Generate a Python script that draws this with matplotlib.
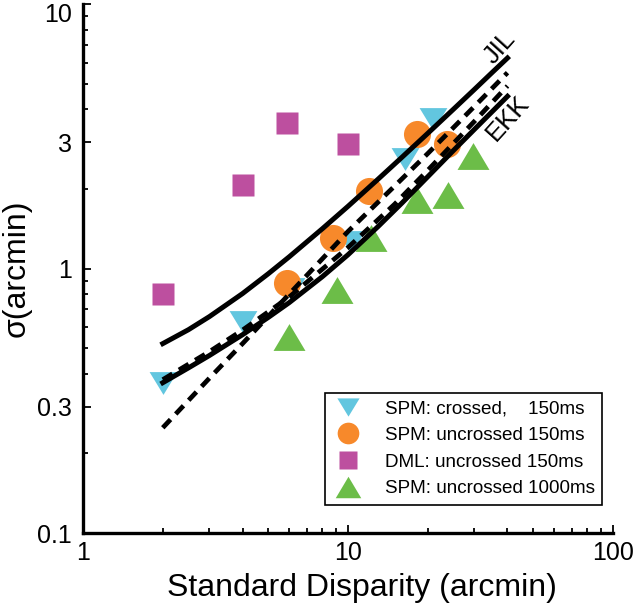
import matplotlib
matplotlib.use("Agg")
import matplotlib.pyplot as plt
from matplotlib.ticker import NullFormatter
from matplotlib.transforms import ScaledTranslation

plt.rcParams['font.family'] = ['Liberation Sans', 'DejaVu Sans']

# --- data ---
# SPM crossed 150ms (cyan, down triangles)
spm_cross_x = [2.0, 4.0, 6.1, 10.3, 16.4, 20.9]
spm_cross_y = [0.37, 0.63, 0.84, 1.26, 2.6, 3.68]

# SPM uncrossed 150ms (orange circles)
spm_unc_x = [5.9, 8.8, 12.0, 18.2, 23.6]
spm_unc_y = [0.88, 1.30, 1.97, 3.23, 2.96]

# DML uncrossed 150ms (magenta squares)
dml_x = [2.0, 4.0, 5.9, 10.0]
dml_y = [0.80, 2.07, 3.56, 2.96]

# SPM uncrossed 1000ms (green up triangles)
spm_1000_x = [6.0, 9.1, 12.2, 18.2, 23.9, 29.6]
spm_1000_y = [0.55, 0.83, 1.30, 1.82, 1.89, 2.67]

# model curves (solid: JIL / EKK, plus two dashed fits)
curve_x = [2, 2.5, 3, 4, 5, 6, 8, 10, 13, 16, 20, 25, 30, 35, 40]
jil_solid = [0.52, 0.587, 0.658, 0.804, 0.955, 1.107, 1.413, 1.718, 2.178,
             2.636, 3.243, 4.0, 4.753, 5.508, 6.25]
ekk_solid = [0.37, 0.421, 0.469, 0.562, 0.653, 0.743, 0.931, 1.127, 1.442,
             1.77, 2.223, 2.793, 3.357, 3.917, 4.477]

dash_x = [2, 3, 4, 6, 10, 15, 20, 30, 40]
dash_upper = [0.25, 0.385, 0.52, 0.80, 1.38, 2.05, 2.72, 4.1, 5.5]
dash_lower = [0.38, 0.485, 0.585, 0.78, 1.20, 1.75, 2.35, 3.6, 4.9]

labels = ["SPM: crossed,    150ms", "SPM: uncrossed 150ms",
          "DML: uncrossed 150ms", "SPM: uncrossed 1000ms"]

c_cyan = "#62c6df"
c_orange = "#f7892b"
c_magenta = "#bd4f9f"
c_green = "#6cbd48"

down_tri = [(-1, 0.82), (1, 0.82), (0, -0.82), (-1, 0.82)]
up_tri = [(-1, -0.84), (1, -0.84), (0, 0.84), (-1, -0.84)]

fig = plt.figure(figsize=(6.4, 6.07), dpi=100)
ax = fig.add_axes([0.1297, 0.1219, 0.828, 0.8715])

ax.plot(spm_cross_x, spm_cross_y, ls="none", marker=down_tri, ms=20,
        color=c_cyan, mec="none", label=labels[0], zorder=2)
ax.plot(spm_unc_x, spm_unc_y, ls="none", marker="o", ms=19.5,
        color=c_orange, mec="none", label=labels[1], zorder=2)
ax.plot(dml_x, dml_y, ls="none", marker="s", ms=16,
        color=c_magenta, mec="none", label=labels[2], zorder=2)
ax.plot(spm_1000_x, spm_1000_y, ls="none", marker=up_tri, ms=23,
        color=c_green, mec="none", label=labels[3], zorder=2)

ax.plot(curve_x, jil_solid, color="black", lw=3.6, zorder=3)
ax.plot(curve_x, ekk_solid, color="black", lw=3.6, zorder=3)
ax.plot(dash_x, dash_upper, color="black", lw=3.4, dashes=(2.4, 1.6), zorder=3)
ax.plot(dash_x, dash_lower, color="black", lw=3.4, dashes=(2.4, 1.6), zorder=3)

ax.text(37.5, 6.82, "JIL", fontsize=18.5, rotation=48, ha="center", va="center")
ax.text(40.2, 3.71, "EKK", fontsize=18.5, rotation=48, ha="center", va="center")

ax.set_xscale("log")
ax.set_yscale("log")
ax.set_xlim(1, 100)
ax.set_ylim(0.1, 10)

ax.set_xticks([1, 10, 100])
ax.set_xticklabels(["1", "10", "100"])
ax.set_yticks([0.1, 0.3, 1, 3, 10])
ax.set_yticklabels(["0.1", "0.3", "1", "3", "10"])
ax.xaxis.set_minor_formatter(NullFormatter())
ax.yaxis.set_minor_formatter(NullFormatter())

ax.tick_params(which="both", direction="in", labelsize=18, width=1.3)
ax.tick_params(which="major", length=6)
ax.tick_params(which="minor", length=3.5)
ax.tick_params(axis="y", pad=8)
ax.tick_params(axis="x", pad=6)

# nudge the top "10" label down so it stays inside the figure
top_lab = ax.get_yticklabels()[-1]
top_lab.set_transform(top_lab.get_transform()
                      + ScaledTranslation(0, -6 / 72, fig.dpi_scale_trans))

for side in ["top", "right"]:
    ax.spines[side].set_visible(False)
for side in ["left", "bottom"]:
    ax.spines[side].set_linewidth(2.4)

ax.set_xlabel("Standard Disparity (arcmin)", fontsize=23, labelpad=6)
ax.xaxis.set_label_coords(0.526, -0.075)
ax.set_ylabel("σ(arcmin)", fontsize=23, labelpad=4)

leg = ax.legend(loc="lower left", bbox_to_anchor=(0.457, 0.053), borderaxespad=0,
                fontsize=13.6, markerscale=0.8, frameon=True, fancybox=False,
                edgecolor="black", framealpha=1, handletextpad=1.15,
                labelspacing=0.5, borderpad=0.4, handlelength=1.6)
leg.get_frame().set_linewidth(1.2)

fig.savefig("out.png", dpi=100)
